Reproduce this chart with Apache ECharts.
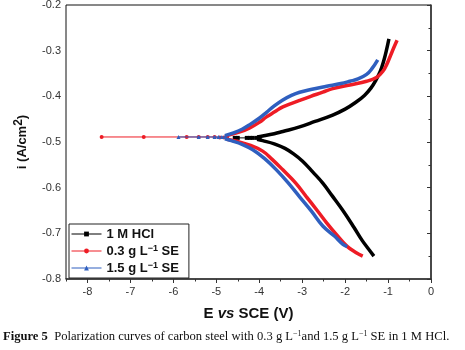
<!DOCTYPE html>
<html>
<head>
<meta charset="utf-8">
<script src="https://cdn.jsdelivr.net/npm/echarts@6/dist/echarts.min.js"></script>
<style>
  html, body { margin: 0; padding: 0; background: #fff; }
  #chart { width: 465px; height: 350px; }
</style>
</head>
<body>
<div id="chart"></div>
<script>
// series names (legend)
const seriesNames = ['1 M HCl', '0.3 g L⁻¹ SE', '1.5 g L⁻¹ SE'];

// 1 M HCl
const hclCathodic = [[-1.33,-0.750],[-1.45,-0.735],[-1.60,-0.716],[-1.80,-0.686],[-2.06,-0.649],[-2.30,-0.618],[-2.52,-0.590],[-2.75,-0.566],[-2.99,-0.542],[-3.20,-0.526],[-3.40,-0.514],[-3.65,-0.504],[-3.92,-0.497],[-4.05,-0.494]];
const hclAnodic = [[-4.05,-0.489],[-3.92,-0.487],[-3.65,-0.482],[-3.45,-0.477],[-3.06,-0.467],[-2.70,-0.455],[-2.29,-0.441],[-2.00,-0.428],[-1.75,-0.413],[-1.55,-0.398],[-1.40,-0.382],[-1.28,-0.364],[-1.18,-0.345],[-1.10,-0.322],[-1.04,-0.300],[-0.98,-0.274]];
const hclFlat = [[-4.57,-0.491],[-4.50,-0.491],[-4.29,-0.491],[-4.22,-0.491],[-4.15,-0.491],[-4.06,-0.491],[-3.99,-0.490]];

// 0.3 g/L SE
const se03Cathodic = [[-1.59,-0.750],[-1.75,-0.742],[-1.96,-0.728],[-2.20,-0.703],[-2.43,-0.677],[-2.65,-0.650],[-2.90,-0.620],[-3.15,-0.590],[-3.45,-0.561],[-3.70,-0.538],[-3.92,-0.520],[-4.22,-0.507],[-4.50,-0.499],[-4.75,-0.494]];
const se03Anodic = [[-4.75,-0.486],[-4.45,-0.478],[-4.22,-0.469],[-4.00,-0.457],[-3.83,-0.445],[-3.64,-0.434],[-3.45,-0.423],[-3.06,-0.409],[-2.80,-0.400],[-2.52,-0.391],[-2.29,-0.383],[-1.89,-0.375],[-1.50,-0.367],[-1.26,-0.358],[-1.12,-0.345],[-1.03,-0.330],[-0.94,-0.310],[-0.86,-0.292],[-0.79,-0.277]];
const se03Flat = [[-7.67,-0.489],[-6.69,-0.489],[-5.69,-0.489],[-5.41,-0.489],[-5.20,-0.489],[-5.04,-0.489],[-4.92,-0.490],[-4.82,-0.490],[-4.75,-0.490]];

// 1.5 g/L SE
const se15Cathodic = [[-1.95,-0.729],[-2.05,-0.724],[-2.25,-0.706],[-2.52,-0.684],[-2.78,-0.652],[-3.06,-0.620],[-3.33,-0.589],[-3.60,-0.561],[-3.88,-0.536],[-4.15,-0.517],[-4.40,-0.505],[-4.65,-0.497],[-4.80,-0.493]];
const se15Anodic = [[-4.80,-0.486],[-4.60,-0.480],[-4.40,-0.472],[-4.22,-0.462],[-4.00,-0.448],[-3.83,-0.435],[-3.65,-0.421],[-3.45,-0.408],[-3.25,-0.398],[-3.06,-0.391],[-2.80,-0.385],[-2.43,-0.378],[-2.10,-0.372],[-1.89,-0.367],[-1.70,-0.362],[-1.50,-0.352],[-1.38,-0.340],[-1.24,-0.320]];
const se15Flat = [[-5.88,-0.489],[-5.41,-0.489],[-5.20,-0.489],[-5.04,-0.489],[-4.95,-0.489],[-4.87,-0.489],[-4.80,-0.489]];

// ticks
const xMajorTicks = [-8, -7, -6, -5, -4, -3, -2, -1, 0];
const xMinorTicks = [-8.5, -7.5, -6.5, -5.5, -4.5, -3.5, -2.5, -1.5, -0.5];

const colors = ['#000000', '#ee1c25', '#2f5fbf'];
const symbols = ['rect', 'circle', 'triangle'];
const font = 'Arial, "Liberation Sans", sans-serif';

const chart = echarts.init(document.getElementById('chart'));

const groups = [
  [hclFlat, hclCathodic, hclAnodic],
  [se03Flat, se03Cathodic, se03Anodic],
  [se15Flat, se15Cathodic, se15Anodic]
];

const series = [];
groups.forEach((g, i) => {
  // flat part near Ecorr: thin line with markers (first, so legend uses it)
  series.push({
    name: seriesNames[i],
    type: 'line',
    data: g[0],
    symbol: symbols[i],
    symbolSize: 4,
    showAllSymbol: true,
    lineStyle: { color: colors[i], width: 1 },
    itemStyle: { color: colors[i] },
    z: 2 + i,
    animation: false
  });
  [g[1], g[2]].forEach(d => {
    series.push({
      name: seriesNames[i],
      type: 'line',
      data: d,
      smooth: 0.4,
      showSymbol: false,
      lineStyle: { color: colors[i], width: 3.5 },
      itemStyle: { color: colors[i] },
      z: 2 + i,
      animation: false
    });
  });
});

const option = {
  animation: false,
  grid: {
    left: 66, right: 34, top: 5, bottom: 71,
    show: true, borderColor: '#111', borderWidth: 1,
    outerBoundsMode: 'none'
  },
  legend: {
    data: seriesNames,
    orient: 'vertical',
    left: 69, top: 224,
    itemWidth: 30, itemHeight: 6, itemGap: 3,
    padding: [3, 10, 3, 2],
    borderColor: '#222', borderWidth: 1,
    backgroundColor: '#fff',
    lineStyle: { width: 1 },
    formatter: n => n.replace('⁻¹', '{s|−1}'),
    textStyle: {
      fontFamily: font, fontSize: 13, fontWeight: 'bold', color: '#111', lineHeight: 14,
      rich: { s: { fontFamily: font, fontSize: 9, fontWeight: 'bold', color: '#111', verticalAlign: 'top', lineHeight: 10 } }
    }
  },
  xAxis: [
    {
      type: 'value', min: -8.5, max: 0, position: 'bottom',
      name: 'E {i|vs} SCE (V)', nameLocation: 'middle', nameGap: 27,
      nameTextStyle: {
        fontFamily: font, fontSize: 15, fontWeight: 'bold', color: '#111',
        rich: { i: { fontFamily: font, fontSize: 15, fontWeight: 'bold', fontStyle: 'italic', color: '#111' } }
      },
      axisLine: { show: true, lineStyle: { color: '#333', width: 1.5 } },
      axisTick: { show: true, customValues: xMajorTicks, length: 4, lineStyle: { color: '#333' } },
      axisLabel: { customValues: xMajorTicks, margin: 7, fontFamily: font, fontSize: 11, color: '#333', formatter: v => String(v) },
      splitLine: { show: false }
    },
    {
      type: 'value', min: -8.5, max: 0, position: 'bottom',
      axisLine: { show: false },
      axisTick: { show: true, customValues: xMinorTicks, length: 2.5, lineStyle: { color: '#333' } },
      axisLabel: { show: false },
      splitLine: { show: false }
    }
  ],
  yAxis: {
    type: 'value', min: -0.8, max: -0.2, interval: 0.1,
    name: 'i (A/cm{s|2})', nameLocation: 'middle', nameGap: 43, nameRotate: 90,
    nameTextStyle: {
      fontFamily: font, fontSize: 13, fontWeight: 'bold', color: '#111', lineHeight: 18, verticalAlign: 'middle',
      rich: { s: { fontFamily: font, fontSize: 12, fontWeight: 'bold', color: '#111', verticalAlign: 'top', lineHeight: 12 } }
    },
    axisLine: { show: true, lineStyle: { color: '#333', width: 1.5 } },
    axisTick: { show: true, length: 4, lineStyle: { color: '#333' } },
    minorTick: { show: true, splitNumber: 2, length: 2.5, lineStyle: { color: '#333' } },
    axisLabel: { margin: 5, fontFamily: font, fontSize: 11, color: '#333', formatter: v => v.toFixed(1) },
    splitLine: { show: false }
  },
  graphic: [
    {
      type: 'text', left: 3, top: 330,
      style: {
        text: '{b|Figure 5}  Polarization curves of carbon steel with 0.3 g L{s|−1}and 1.5 g L{s|−1} SE in 1 M HCl.',
        font: '12.6px "Liberation Serif", serif',
        fill: '#111',
        rich: {
          b: { font: 'bold 12.6px "Liberation Serif", serif', fill: '#111' },
          s: { font: '8px "Liberation Serif", serif', fill: '#111', verticalAlign: 'top', lineHeight: 10 }
        }
      }
    }
  ],
  series: series
};

chart.setOption(option);
</script>
</body>
</html>
